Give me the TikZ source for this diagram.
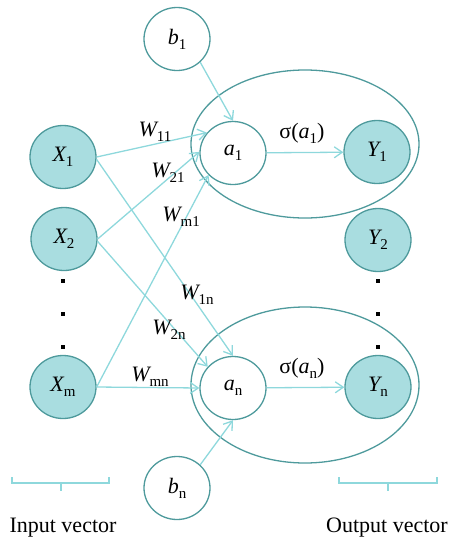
\documentclass[tikz,border=0pt]{standalone}
\usepackage{fontspec}
\usepackage{tikz}
\setmainfont{Liberation Serif}
\usetikzlibrary{shapes.geometric,arrows.meta}

\definecolor{unitfill}{RGB}{169,221,224}
\definecolor{unitedge}{RGB}{78,154,156}
\definecolor{linkcolor}{RGB}{142,216,220}

\newcommand{\vsub}[2]{{\itshape #1}\raisebox{-0.22em}{\fontsize{15}{15}\selectfont #2}}

\begin{document}
\begin{tikzpicture}[x=1pt,y=-1pt,
  font=\fontsize{22}{26}\selectfont,
  unit/.style={ellipse,draw=unitedge,line width=1.3pt,minimum width=66pt,minimum height=63pt,inner sep=0pt},
  vecunit/.style={unit,fill=unitfill},
  link/.style={draw=linkcolor,line width=1.3pt,-{Straight Barb[length=8pt,width=11pt]}},
  layer/.style={draw=unitedge,line width=1.3pt}]

  \useasboundingbox (0,0) rectangle (458,550);

  % neurons
  \draw[layer] (305,144) ellipse [x radius=114, y radius=74];
  \draw[layer] (305,385) ellipse [x radius=114, y radius=78];

  % inputs
  \node[vecunit] (x1) at (63,157) {\vsub{X}{1}};
  \node[vecunit] (x2) at (64,239) {\vsub{X}{2}};
  \node[vecunit] (xm) at (63,387) {\vsub{X}{m}};

  % sums and biases
  \node[unit] (a1) at (233,153) {\vsub{a}{1}};
  \node[unit] (an) at (233,388) {\vsub{a}{n}};
  \node[unit] (b1) at (177,39) {\vsub{b}{1}};
  \node[unit] (bn) at (177,488) {\vsub{b}{n}};

  % outputs
  \node[vecunit] (y1) at (377,152) {\vsub{Y}{1}};
  \node[vecunit] (y2) at (378,240) {\vsub{Y}{2}};
  \node[vecunit] (yn) at (378,387) {\vsub{Y}{n}};

  % connections
  \draw[link] (b1.-45) -- (a1.90);
  \draw[link] (x1.east) -- (a1.142);
  \draw[link] (x2.east) -- (a1.178);
  \draw[link] (xm.east) -- (a1.222);
  \draw[link] (x1.-4) -- (an.90);
  \draw[link] (x2.-4) -- (an.140);
  \draw[link] (xm.east) -- (an.180);
  \draw[link] (bn.45) -- (an.270);
  \draw[link] (a1) -- (y1);
  \draw[link] (an) -- (yn);

  % weights
  \node (w11) at (155,132) {\vsub{W}{11}};
  \node (w21) at (168,173) {\vsub{W}{21}};
  \node (wm1) at (181,217) {\vsub{W}{m1}};
  \node (w1n) at (197,295) {\vsub{W}{1n}};
  \node (w2n) at (169,330) {\vsub{W}{2n}};
  \node (wmn) at (150,377) {\vsub{W}{mn}};
  \node (s1) at (302,133) {σ(\vsub{a}{1})};
  \node (sn) at (302,368) {σ(\vsub{a}{n})};

  % dots
  \foreach \dx in {63,378}
    \foreach \dy in {281,314,347}
      \fill (\dx-1.6,\dy-1.6) rectangle (\dx+1.6,\dy+1.6);

  % brackets
  \draw[linkcolor,line width=1.1pt] (12,477) -- (12,483) -- (109,483) -- (109,477);
  \draw[linkcolor,line width=1.1pt] (61,483) -- (61,491);
  \draw[linkcolor,line width=1.1pt] (339,477) -- (339,483) -- (437,483) -- (437,477);
  \draw[linkcolor,line width=1.1pt] (388,483) -- (388,491);

  \node (invec) at (63,528) {Input vector};
  \node (outvec) at (387,528) {Output vector};
\end{tikzpicture}
\end{document}
